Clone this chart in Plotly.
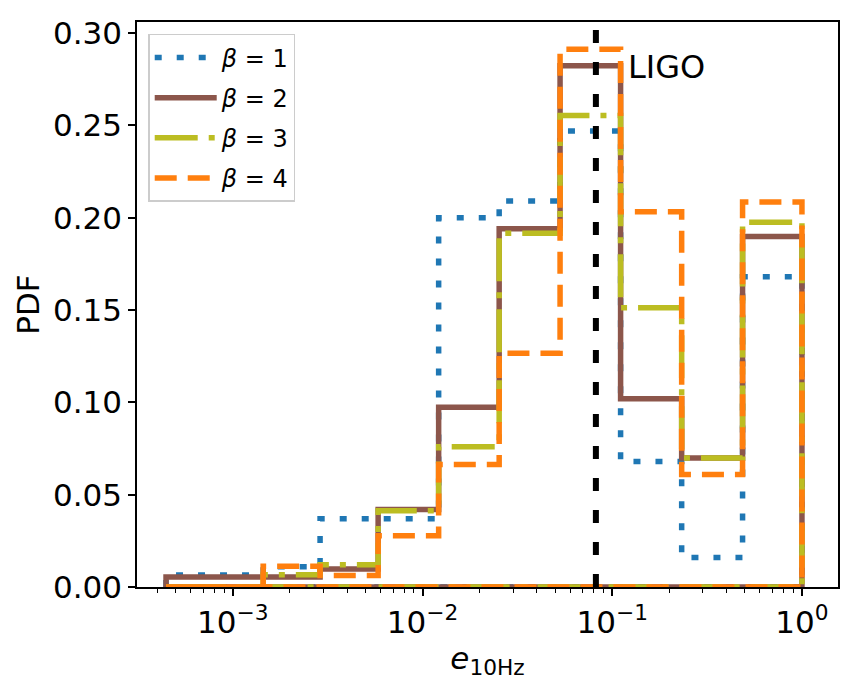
import numpy as np
import plotly.graph_objects as go

# log10 of bin edges of e_10Hz
log_edges = [-3.352, -2.840, -2.540, -2.234, -1.915, -1.596, -1.275, -0.956, -0.634, -0.313, 0.0]
labels = ["<i>β</i> = 1", "<i>β</i> = 2", "<i>β</i> = 3", "<i>β</i> = 4"]
pdf_beta1 = [0.0065, 0.011, 0.037, 0.037, 0.200, 0.209, 0.247, 0.068, 0.016, 0.168]
pdf_beta2 = [0.0054, 0.0054, 0.0097, 0.042, 0.0973, 0.194, 0.2823, 0.102, 0.0699, 0.1898]
pdf_beta3 = [0.0, 0.0066, 0.012, 0.0413, 0.076, 0.1916, 0.2554, 0.1512, 0.0699, 0.1976]
pdf_beta4 = [0.0, 0.0113, 0.0062, 0.0278, 0.0663, 0.1266, 0.2913, 0.2033, 0.0609, 0.2085]
ligo_e = 0.082

colors = ["#1f77b4", "#8c564b", "#bcbd22", "#ff7f0e"]
dashes = ["7px,15px", "solid", "43px,11px,6px,11px", "22px,11px"]

edges = [10 ** v for v in log_edges]


def step_outline(edges, vals):
    xs = [edges[0]]
    ys = [0.0]
    for i, v in enumerate(vals):
        xs += [edges[i], edges[i + 1]]
        ys += [v, v]
    xs += [edges[-1], edges[0]]
    ys += [0.0, 0.0]
    return xs, ys


fig = go.Figure()
for i, vals in enumerate([pdf_beta1, pdf_beta2, pdf_beta3, pdf_beta4]):
    xs, ys = step_outline(edges, vals)
    fig.add_trace(go.Scatter(
        x=xs, y=ys, mode="lines", name=labels[i],
        line=dict(color=colors[i], width=5.5, dash=dashes[i]),
        legendgroup=f"g{i}", hoverinfo="skip",
    ))

fig.add_shape(type="line", xref="x", yref="paper", x0=ligo_e, x1=ligo_e, y0=0, y1=1,
              line=dict(color="black", width=6, dash="13px,19px"))
fig.add_annotation(x=np.log10(0.118), y=0.2815, xref="x", yref="y", text="LIGO",
                   showarrow=False, xanchor="left", yanchor="middle",
                   font=dict(size=32, color="black", family="DejaVu Sans"))

font = "DejaVu Sans"
fig.update_layout(
    width=858, height=688,
    margin=dict(l=137, r=20, t=22, b=100.5, pad=0),
    paper_bgcolor="white", plot_bgcolor="white",
    font=dict(family=font, color="black", size=31),
    showlegend=True,
    legend=dict(
        x=0.016, y=0.979, xanchor="left", yanchor="top",
        bgcolor="rgba(255,255,255,0.8)", bordercolor="#cccccc", borderwidth=1.5,
        font=dict(family=font, size=24, color="black"),
        itemwidth=62, tracegroupgap=6,
    ),
    xaxis=dict(
        type="log", range=[-3.505, 0.19],
        tickvals=[1e-3, 1e-2, 1e-1, 1],
        ticktext=["10<sup>−3</sup>", "10<sup>−2</sup>", "10<sup>−1</sup>", "10<sup>0</sup>"],
        ticks="outside", ticklen=7, tickwidth=1.5, tickcolor="black",
        minor=dict(ticks="outside", ticklen=4, tickwidth=1, tickcolor="black", dtick="D1", showgrid=False),
        showline=True, linecolor="black", linewidth=1.5, mirror=True,
        showgrid=False, zeroline=False,
        tickfont=dict(size=31),
        title=dict(text="<i>e</i><sub>10Hz</sub>", font=dict(size=31), standoff=8),
    ),
    yaxis=dict(
        range=[0, 0.306],
        tickvals=[0, 0.05, 0.10, 0.15, 0.20, 0.25, 0.30],
        tickformat=".2f",
        ticks="outside", ticklen=7, tickwidth=1.5, tickcolor="black",
        showline=True, linecolor="black", linewidth=1.5, mirror=True,
        showgrid=False, zeroline=False,
        tickfont=dict(size=31),
        title=dict(text="PDF", font=dict(size=31), standoff=4),
    ),
)

fig.write_html("out.html")
